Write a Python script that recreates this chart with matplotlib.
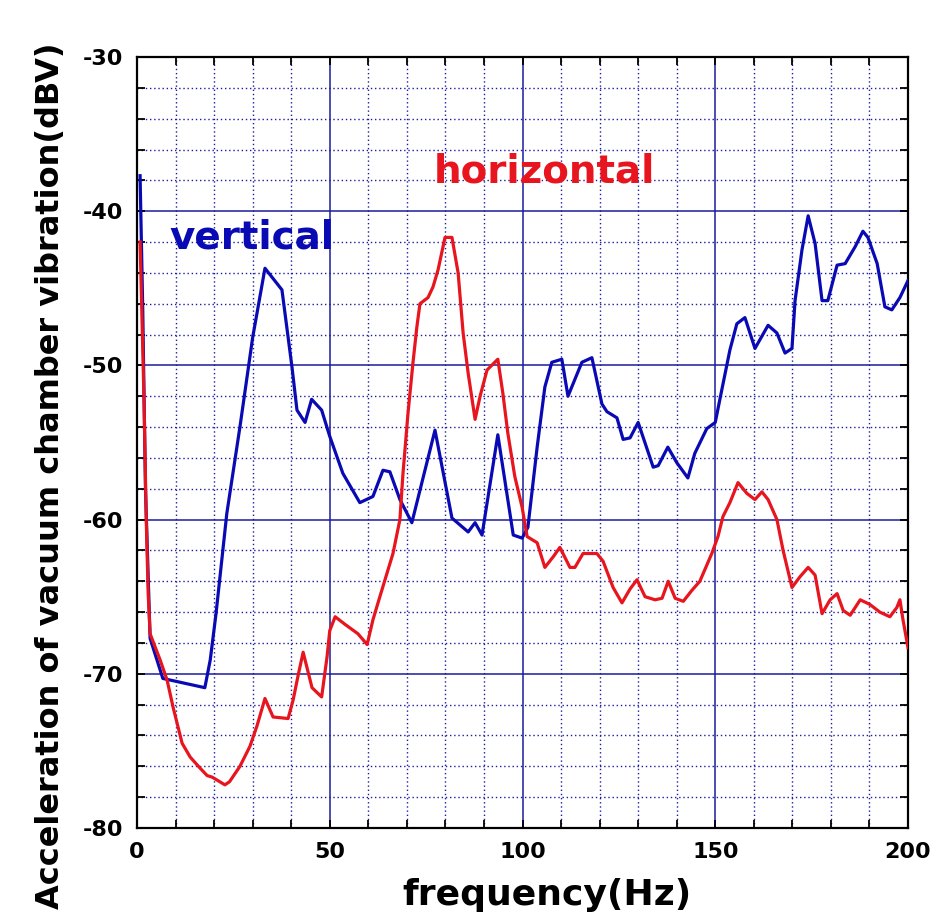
import matplotlib.pyplot as plt
import numpy as np
from matplotlib.ticker import MultipleLocator

plt.rcParams['axes.unicode_minus'] = False

# vertical (blue) trace
f_vert = [0.8, 1.5, 2.2, 3.4, 6.7, 17.6, 19.0, 20.5, 23.3, 26.7, 30.0, 33.2, 37.6,
          40.2, 41.5, 43.6, 45.3, 47.9, 50.0, 53.4, 57.8, 61.2, 63.8, 65.6, 68.2,
          71.3, 77.3, 81.7, 85.9, 87.7, 89.5, 93.6, 97.6, 99.9, 101.4, 103.8, 105.8,
          107.6, 110.2, 111.8, 115.4, 118.0, 120.6, 121.9, 124.5, 126.1, 127.9, 130.0,
          133.9, 135.2, 137.7, 140.0, 142.9, 144.7, 147.8, 150.0, 151.2, 153.8, 155.6,
          157.7, 160.3, 163.7, 166.0, 168.1, 169.9, 170.7, 172.5, 174.1, 175.9, 177.7,
          179.2, 181.6, 183.7, 186.3, 188.3, 189.6, 192.0, 194.0, 195.8, 197.9, 200.0]
v_vert = [-37.7, -46.5, -58.0, -67.7, -70.3, -70.9, -69.1, -66.1, -59.6, -54.0, -48.2, -43.7, -45.1,
          -50.1, -52.9, -53.7, -52.2, -52.9, -54.6, -57.0, -58.9, -58.5, -56.8, -56.9, -58.7,
          -60.2, -54.2, -59.9, -60.8, -60.2, -61.0, -54.5, -61.0, -61.2, -60.5, -55.3, -51.4,
          -49.8, -49.6, -52.0, -49.8, -49.5, -52.5, -53.0, -53.4, -54.8, -54.7, -53.7,
          -56.6, -56.5, -55.3, -56.3, -57.3, -55.7, -54.1, -53.7, -52.2, -49.0, -47.3,
          -46.9, -48.9, -47.4, -47.9, -49.2, -48.9, -45.8, -42.5, -40.3, -42.1, -45.8,
          -45.8, -43.5, -43.4, -42.3, -41.3, -41.7, -43.4, -46.2, -46.4, -45.6, -44.5]

# horizontal (red) trace
f_hor = [0.8, 1.8, 2.4, 2.9, 3.4, 6.0, 7.8, 9.4, 11.7, 13.8, 16.3, 18.2, 19.5, 22.8, 24.0,
         26.7, 29.3, 31.1, 33.2, 35.3, 39.2, 40.5, 41.8, 43.1, 45.4, 47.9, 49.3, 50.0, 51.4,
         54.0, 57.3, 59.7, 61.2, 63.0, 66.4, 68.2, 69.0, 70.3, 71.6, 72.6, 73.4, 75.5, 76.8,
         78.1, 79.9, 81.7, 83.3, 84.6, 85.9, 87.7, 89.0, 90.8, 93.6, 94.9, 96.2, 98.0, 99.9,
         101.2, 103.8, 105.8, 108.0, 109.7, 112.3, 113.6, 115.7, 119.3, 120.9, 123.5, 125.8,
         127.9, 129.7, 131.8, 134.4, 136.2, 137.8, 139.6, 141.7, 143.9, 146.0, 149.1, 150.7,
         152.0, 153.8, 155.9, 158.2, 160.3, 162.1, 163.7, 166.0, 167.6, 169.9, 172.0, 174.1,
         175.9, 177.7, 179.8, 181.6, 183.2, 185.0, 187.6, 190.1, 192.7, 195.3, 197.1, 197.9,
         198.7, 200.0]
v_hor = [-42.0, -52.0, -60.0, -64.8, -67.4, -69.1, -70.4, -72.2, -74.5, -75.4, -76.1, -76.6, -76.7, -77.2, -77.0,
         -76.0, -74.7, -73.4, -71.6, -72.8, -72.9, -71.7, -70.1, -68.6, -70.9, -71.5, -68.9, -67.2, -66.3,
         -66.8, -67.4, -68.1, -66.5, -65.0, -62.2, -60.0, -57.0, -53.1, -49.8, -47.5, -46.0, -45.6, -44.9,
         -43.8, -41.7, -41.7, -44.0, -47.9, -50.5, -53.5, -52.0, -50.3, -49.6, -51.8, -54.4, -57.2, -59.2,
         -61.1, -61.5, -63.1, -62.4, -61.8, -63.1, -63.1, -62.2, -62.2, -62.7, -64.4, -65.4,
         -64.5, -63.9, -65.0, -65.2, -65.1, -64.0, -65.1, -65.3, -64.6, -64.0, -62.2, -61.1,
         -59.8, -58.9, -57.6, -58.3, -58.7, -58.2, -58.7, -60.0, -62.0, -64.4, -63.7, -63.1,
         -63.6, -66.1, -65.2, -64.8, -65.9, -66.2, -65.2, -65.5, -66.0, -66.3, -65.7, -65.2,
         -66.5, -68.3]

navy = '#1c1c9c'

fig = plt.figure(figsize=(9.5, 9.19), dpi=100)
ax = fig.add_axes([0.1442, 0.099, 0.8116, 0.839])

ax.plot(f_vert, v_vert, color='#0a0ab4', lw=2.3, zorder=3)
ax.plot(f_hor, v_hor, color='#e8141e', lw=2.3, zorder=3)

ax.set_xlim(0, 200)
ax.set_ylim(-80, -30)
ax.xaxis.set_major_locator(MultipleLocator(50))
ax.xaxis.set_minor_locator(MultipleLocator(10))
ax.yaxis.set_major_locator(MultipleLocator(10))
ax.yaxis.set_minor_locator(MultipleLocator(2))

ax.grid(which='major', color=navy, lw=1.1, ls='-', zorder=1)
ax.grid(which='minor', color=navy, lw=1.0, ls=(0, (1, 2)), zorder=1)

ax.tick_params(which='both', direction='in', top=True, right=True,
               length=6, width=1.3, labelsize=16)
ax.tick_params(axis='x', pad=10)
ax.tick_params(axis='y', pad=10)
for lab in ax.get_xticklabels() + ax.get_yticklabels():
    lab.set_fontweight('bold')
for s in ax.spines.values():
    s.set_linewidth(1.6)

fig.text(0.576, 0.026, 'frequency(Hz)', fontsize=26, fontweight='bold',
         ha='center', va='center')
fig.text(0.053, 0.482, 'Acceleration of vacuum chamber vibration(dBV)', fontsize=23,
         fontweight='bold', rotation=90, ha='center', va='center')

ax.text(8.5, -41.7, 'vertical', color='#0a0ab4', fontsize=28, fontweight='bold', va='center')
ax.text(77, -37.4, 'horizontal', color='#e8141e', fontsize=28, fontweight='bold', va='center')

fig.savefig('out.png', dpi=100)
